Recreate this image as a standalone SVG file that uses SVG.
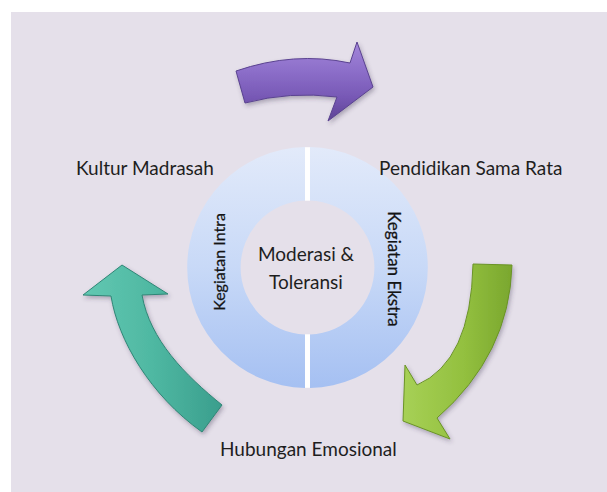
<svg xmlns="http://www.w3.org/2000/svg" width="607" height="492" viewBox="0 0 607 492">
  <defs>
    <style>
      .lbl { font-family: Lato, "Liberation Sans", sans-serif; font-size: 19px; fill: #1e1e1e; }
      .ctr { font-family: Lato, "Liberation Sans", sans-serif; font-size: 19px; fill: #1e1e1e; text-anchor: middle; }
      .side { font-family: Lato, "Liberation Sans", sans-serif; font-size: 16px; fill: #141414; text-anchor: middle; stroke: #141414; stroke-width: 0.25; }
      .arrow { filter: url(#shadow); stroke-width: 1; stroke-linejoin: round; }
      .gap { fill: #ffffff; }
    </style>
    <linearGradient id="ringFill" gradientUnits="userSpaceOnUse" x1="0" y1="147" x2="0" y2="388">
      <stop offset="0" stop-color="#e2eafa"/>
      <stop offset="0.5" stop-color="#c8d9f7"/>
      <stop offset="1" stop-color="#a5c0f2"/>
    </linearGradient>
    <linearGradient id="purpleFill" gradientUnits="userSpaceOnUse" x1="0" y1="45" x2="0" y2="120">
      <stop offset="0" stop-color="#a184d8"/>
      <stop offset="0.35" stop-color="#8c6ec9"/>
      <stop offset="0.7" stop-color="#7758b5"/>
      <stop offset="1" stop-color="#5e4496"/>
    </linearGradient>
    <linearGradient id="greenFill" gradientUnits="userSpaceOnUse" x1="405" y1="0" x2="512" y2="0">
      <stop offset="0" stop-color="#a6d055"/>
      <stop offset="0.55" stop-color="#93c03f"/>
      <stop offset="1" stop-color="#7aa72e"/>
    </linearGradient>
    <linearGradient id="tealFill" gradientUnits="userSpaceOnUse" x1="83" y1="0" x2="222" y2="0">
      <stop offset="0" stop-color="#62c8b2"/>
      <stop offset="0.5" stop-color="#4fb8a2"/>
      <stop offset="1" stop-color="#3a9e8d"/>
    </linearGradient>
    <filter id="shadow" x="-20%" y="-20%" width="140%" height="140%">
      <feDropShadow dx="1.5" dy="2.5" stdDeviation="2" flood-color="#3a3050" flood-opacity="0.35"/>
    </filter>
  </defs>

  <!-- backdrop -->
  <rect x="11" y="12" width="596" height="480" fill="#e5e0ea"/>

  <!-- central hub: two half rings around the core, split by white seams -->
  <g id="kegiatan-intra">
    <path d="M305 147.03 A120.5 120.5 0 0 0 305 387.97 L305 334.45 A67 67 0 0 1 305 200.55 Z" fill="url(#ringFill)"/>
    <text class="side" transform="translate(225 262) rotate(-90)">Kegiatan Intra</text>
  </g>
  <g id="kegiatan-ekstra">
    <path d="M310 147.03 A120.5 120.5 0 0 1 310 387.97 L310 334.45 A67 67 0 0 0 310 200.55 Z" fill="url(#ringFill)"/>
    <text class="side" style="font-size:17px" transform="translate(388 269) rotate(90)">Kegiatan Ekstra</text>
  </g>
  <rect class="gap" x="305" y="147.2" width="5" height="53.5"/>
  <rect class="gap" x="305" y="334.3" width="5" height="53.5"/>
  <g id="moderasi-toleransi">
    <text class="ctr" x="306" y="261">Moderasi  &amp;</text>
    <text class="ctr" x="306" y="289">Toleransi</text>
  </g>

  <!-- outer labels -->
  <g id="kultur-madrasah">
    <text class="lbl" x="76" y="175">Kultur Madrasah</text>
  </g>
  <g id="pendidikan-sama-rata">
    <text class="lbl" x="379" y="175">Pendidikan Sama Rata</text>
  </g>
  <g id="hubungan-emosional">
    <text class="lbl" x="220" y="456">Hubungan Emosional</text>
  </g>

  <!-- cycle connectors -->
  <g id="connectors">
    <path class="arrow" fill="url(#purpleFill)" stroke="#5a4290"
          d="M236 71 Q294 51 350 63 L357 42 L373 87 L328 121 L337 97 Q290 91 245 103 Z"/>
    <path class="arrow" fill="url(#greenFill)" stroke="#6a9325"
          d="M473 264 L512 265 Q509.5 354.5 437 418 L450 439 L403 421 L405 365 L417 385 Q471 361.5 473 264 Z"/>
    <path class="arrow" fill="url(#tealFill)" stroke="#2f8676"
          d="M202 432 C150 395 118 340 111 296 L83 295 L122 265 L168 294 L142 295 C150 340 185 375 222 405 Z"/>
  </g>
</svg>
